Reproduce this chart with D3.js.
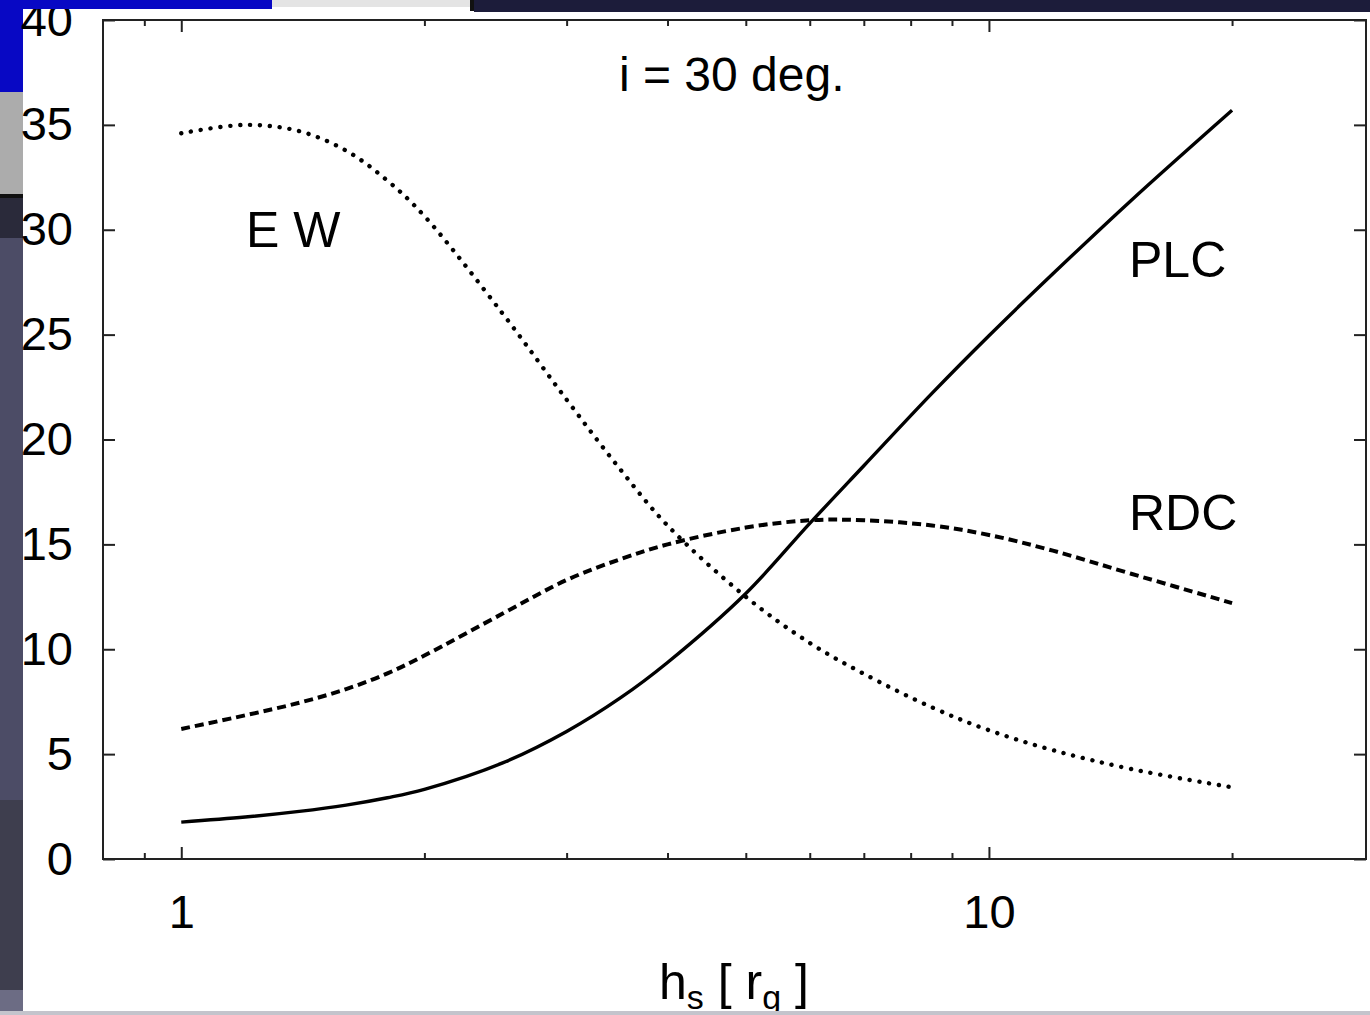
<!DOCTYPE html>
<html>
<head>
<meta charset="utf-8">
<script src="https://cdn.jsdelivr.net/npm/d3@7"></script>
<style>
  html, body { margin: 0; padding: 0; background: #ffffff; }
  svg { display: block; }
  text { font-family: "Liberation Sans", Arial, Helvetica, sans-serif; fill: #000; }
</style>
</head>
<body>
<svg id="chart" width="1370" height="1015"></svg>
<script>
// Source height h_s in units of r_g (log axis)
const hs = [1, 1.2, 1.4, 1.6, 1.8, 2, 2.5, 3, 3.5, 4, 5, 6, 7, 8.5, 10, 12, 15, 20];

// Series values at each h_s
const plc = [1.76, 2.0, 2.27, 2.57, 2.92, 3.32, 4.58, 6.08, 7.69, 9.37, 12.66, 16.0, 18.75, 22.2, 24.95, 27.9, 31.4, 35.7];
const rdc = [6.2, 6.85, 7.45, 8.1, 8.85, 9.7, 11.7, 13.3, 14.3, 15.0, 15.8, 16.15, 16.15, 15.9, 15.45, 14.7, 13.6, 12.2];
const ew  = [34.6, 35.0, 34.7, 33.77, 32.34, 30.65, 26.0, 21.9, 18.55, 15.9, 12.5, 10.3, 8.83, 7.23, 6.14, 5.19, 4.29, 3.42];

// Axis ticks
const xMajor = [1, 10];
const xMinor = [0.9, 2, 3, 4, 5, 6, 7, 8, 9, 20];
const yTicks = [0, 5, 10, 15, 20, 25, 30, 35, 40];

const svg = d3.select("#chart");

// Slide backdrop behind the figure: left strip
const leftStrip = svg.append("g");
leftStrip.append("rect").attr("x", 0).attr("y", 0).attr("width", 23).attr("height", 1015).attr("fill", "#4c4c66");
leftStrip.append("rect").attr("x", 0).attr("y", 0).attr("width", 23).attr("height", 92).attr("fill", "#0808c4");
leftStrip.append("rect").attr("x", 0).attr("y", 92).attr("width", 23).attr("height", 104).attr("fill", "#acacac");
leftStrip.append("rect").attr("x", 0).attr("y", 194).attr("width", 23).attr("height", 4).attr("fill", "#111");
leftStrip.append("rect").attr("x", 0).attr("y", 198).attr("width", 23).attr("height", 40).attr("fill", "#2a2a3a");
leftStrip.append("rect").attr("x", 0).attr("y", 800).attr("width", 23).attr("height", 190).attr("fill", "#3e3e4e");
leftStrip.append("rect").attr("x", 0).attr("y", 990).attr("width", 23).attr("height", 25).attr("fill", "#6c6c84");

const x = d3.scaleLog().domain([0.8, 29.3]).range([103, 1366]);
const y = d3.scaleLinear().domain([0, 40]).range([859, 20]);

const plot = svg.append("g");

// Ticks on all four sides, pointing inward
function styleAxis(g) {
  g.select(".domain").remove();
  g.selectAll(".tick line").attr("stroke", "#222").attr("stroke-width", 2);
  g.selectAll(".tick text").attr("font-size", 47).attr("font-family", "Liberation Sans, Arial, sans-serif").attr("fill", "#000");
}

plot.append("g").attr("transform", "translate(0,859)")
  .call(d3.axisBottom(x).tickValues(xMajor).tickSize(-12).tickPadding(36).tickFormat(d3.format("d")))
  .call(styleAxis);
plot.append("g").attr("transform", "translate(0,859)")
  .call(d3.axisBottom(x).tickValues(xMinor).tickSize(-6).tickFormat(""))
  .call(styleAxis);
plot.append("g").attr("transform", "translate(0,20)")
  .call(d3.axisTop(x).tickValues(xMajor).tickSize(-12).tickFormat(""))
  .call(styleAxis);
plot.append("g").attr("transform", "translate(0,20)")
  .call(d3.axisTop(x).tickValues(xMinor).tickSize(-6).tickFormat(""))
  .call(styleAxis);
plot.append("g").attr("transform", "translate(103,0)")
  .call(d3.axisLeft(y).tickValues(yTicks).tickSize(-12).tickPadding(30).tickFormat(d3.format("d")))
  .call(styleAxis);
plot.append("g").attr("transform", "translate(1366,0)")
  .call(d3.axisRight(y).tickValues(yTicks).tickSize(-12).tickFormat(""))
  .call(styleAxis);

// Frame
plot.append("rect")
  .attr("x", x.range()[0]).attr("y", y.range()[1])
  .attr("width", x.range()[1] - x.range()[0]).attr("height", y.range()[0] - y.range()[1])
  .attr("fill", "none").attr("stroke", "#222").attr("stroke-width", 2);

// Curves
const line = d3.line()
  .x(d => x(d[0]))
  .y(d => y(d[1]))
  .curve(d3.curveCatmullRom.alpha(0.5));

function drawSeries(vals, attrs) {
  const p = plot.append("path")
    .datum(hs.map((h, i) => [h, vals[i]]))
    .attr("d", line)
    .attr("fill", "none")
    .attr("stroke", "#000");
  Object.entries(attrs).forEach(([k, v]) => p.attr(k, v));
}

drawSeries(plc, { "stroke-width": 3.4 });
drawSeries(rdc, { "stroke-width": 4, "stroke-dasharray": "9,5" });
drawSeries(ew,  { "stroke-width": 4.4, "stroke-dasharray": "0.1,9.8", "stroke-linecap": "round" });

// Annotations
plot.append("text").attr("x", 619).attr("y", 91).attr("font-size", 48).text("i = 30 deg.");
plot.append("text").attr("x", 246).attr("y", 247).attr("font-size", 50).text("E W");
plot.append("text").attr("x", 1129).attr("y", 277).attr("font-size", 50).text("PLC");
plot.append("text").attr("x", 1129).attr("y", 530).attr("font-size", 50).text("RDC");

// X-axis title: h_s [ r_g ]
const xt = plot.append("text").attr("x", 659).attr("y", 999).attr("font-size", 50);
xt.append("tspan").text("h");
xt.append("tspan").attr("dy", 10).attr("font-size", 34).text("s");
xt.append("tspan").attr("dy", -10).text(" [ r");
xt.append("tspan").attr("dy", 10).attr("font-size", 34).text("g");
xt.append("tspan").attr("dy", -10).text(" ]");

// Slide backdrop: top bars and bottom edge
const topBars = svg.append("g");
topBars.append("rect").attr("x", 0).attr("y", 0).attr("width", 272).attr("height", 9).attr("fill", "#0808c4");
topBars.append("rect").attr("x", 272).attr("y", 0).attr("width", 200).attr("height", 7).attr("fill", "#e4e4e4");
topBars.append("rect").attr("x", 470).attr("y", 0).attr("width", 4).attr("height", 11).attr("fill", "#111");
topBars.append("rect").attr("x", 474).attr("y", 0).attr("width", 896).attr("height", 12).attr("fill", "#1c1c3a");
topBars.append("rect").attr("x", 0).attr("y", 1011).attr("width", 1370).attr("height", 4).attr("fill", "#c4c4cc");
</script>
</body>
</html>
